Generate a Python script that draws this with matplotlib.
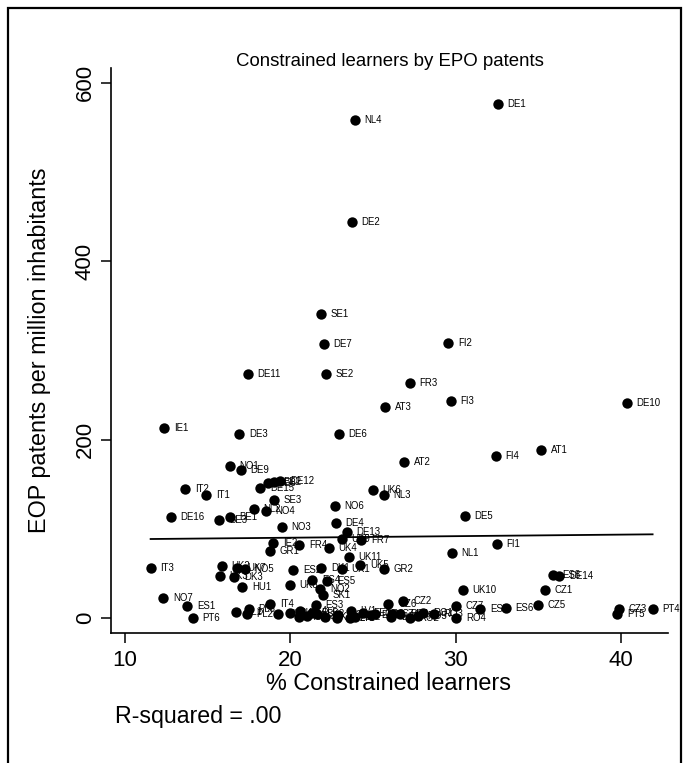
import numpy as np
import matplotlib
matplotlib.use('Agg')
import matplotlib.pyplot as plt
from matplotlib.patches import Rectangle

plt.rcParams['font.family'] = ['Liberation Sans', 'DejaVu Sans']

# regions, % constrained learners, EPO patents per million inhabitants
regions = ['DE1', 'NL4', 'DE2', 'SE1', 'DE7', 'FI2', 'DE11', 'SE2', 'FR3', 'AT3',
           'FI3', 'DE10', 'IE1', 'DE3', 'DE6', 'AT2', 'FI4', 'AT1', 'NO1', 'DE9',
           'IT2', 'IT1', 'DE15', 'DE8', 'BE2', 'DE12', 'SE3', 'NL2', 'NO4', 'BE1',
           'BE3', 'DE16', 'NO3', 'NO6', 'DE4', 'DE13', 'UK6', 'NL3', 'UK9', 'FR7',
           'DE5', 'FI1', 'NL1', 'IE2', 'GR1', 'FR4', 'UK4', 'UK11', 'IT3', 'UK2',
           'UK7', 'NO5', 'UK3', 'DK3', 'HU1', 'ES2', 'DK1', 'UK1', 'UK5', 'GR2',
           'UK8', 'ES4', 'ES5', 'NO2', 'SK1', 'NO7', 'ES1', 'PT6', 'UK10', 'CZ1',
           'ES8', 'DE14', 'CZ5', 'ES6', 'ES7', 'CZ7', 'RO4', 'CZ2', 'CZ3', 'PT5',
           'PT4', 'PL1', 'PL2', 'PL3', 'IT4', 'HU2', 'SI1', 'PL4', 'HU3', 'ES3',
           'SK2', 'BG2', 'LV1', 'LT1', 'EE1', 'GR3', 'CZ6', 'CZ4', 'BG1', 'RO2',
           'RO1', 'RO3', 'HU4', 'PL5', 'SK3', 'SI2', 'LV2', 'EE2', 'BG3', 'RO5']
constrained = [32.55, 23.91, 23.71, 21.84, 22.02, 29.56, 17.42, 22.16, 27.24, 25.73,
               29.72, 40.35, 12.36, 16.90, 22.93, 26.90, 32.43, 35.18, 16.35, 17.00,
               13.63, 14.90, 18.17, 18.65, 19.01, 19.38, 19.01, 17.80, 18.53, 16.35,
               15.69, 12.76, 19.50, 22.70, 22.76, 23.43, 25.00, 25.67, 23.13, 24.28,
               30.57, 32.49, 29.76, 18.95, 18.77, 20.53, 22.34, 23.55, 11.55, 15.85,
               16.78, 17.26, 15.73, 16.62, 17.10, 20.18, 21.88, 23.11, 24.23, 25.67,
               19.98, 21.34, 22.25, 21.80, 21.96, 12.32, 13.77, 14.10, 30.45, 35.39,
               35.87, 36.27, 34.98, 33.03, 31.48, 30.02, 30.04, 26.84, 39.90, 39.78,
               41.92, 16.70, 17.36, 17.50, 18.79, 19.24, 19.98, 20.59, 20.99, 21.55,
               21.60, 22.81, 23.65, 23.61, 24.42, 25.12, 25.93, 26.13, 26.64, 27.24,
               28.05, 28.69, 20.50, 21.30, 22.10, 22.90, 23.90, 24.90, 26.10, 27.70]
patents = [576.5, 558.5, 444.3, 340.5, 306.9, 308.7, 273.7, 273.7, 263.9, 237.0,
           243.8, 240.8, 213.2, 206.8, 206.1, 175.4, 182.1, 188.2, 171.1, 165.6,
           144.4, 137.8, 145.6, 151.1, 152.2, 153.3, 132.2, 122.2, 120.0, 113.3,
           110.0, 113.3, 102.2, 125.6, 106.7, 96.7, 143.3, 137.8, 88.9, 87.8,
           114.8, 83.3, 73.3, 84.4, 75.6, 82.2, 78.9, 69.2, 56.3, 58.3,
           56.7, 55.0, 47.4, 46.3, 35.2, 54.4, 56.1, 55.3, 60.0, 55.6,
           37.8, 42.8, 42.2, 33.3, 25.6, 22.2, 13.7, 0.8, 31.7, 31.4,
           48.1, 47.8, 15.2, 11.9, 10.0, 13.7, 0.8, 19.2, 10.8, 5.2,
           10.8, 7.4, 5.2, 10.8, 15.6, 4.4, 6.3, 8.1, 2.6, 14.4,
           4.4, 0.8, 8.1, 0.0, 6.3, 5.2, 16.3, 5.2, 5.2, 0.0,
           6.3, 4.4, 2.0, 5.5, 1.0, 3.5, 1.5, 4.0, 2.0, 3.0]

x = np.array(constrained)
y = np.array(patents)
slope, intercept = np.polyfit(x, y, 1)
r2 = np.corrcoef(x, y)[0, 1] ** 2

W, H = 689, 763
fig = plt.figure(figsize=(W / 100, H / 100), dpi=100)
fig.patch.set_facecolor('white')

# outer frame, open at the bottom
fig.patches.append(Rectangle((8 / W, -0.05), (681 - 8) / W, 1.05 - 8 / H,
                             transform=fig.transFigure, fill=False,
                             edgecolor='black', linewidth=1.6))

ax = fig.add_axes([111 / W, 1 - 633.3 / H, (668.3 - 111) / W, (633.3 - 68) / H])
ax.set_xlim(9.153, 42.87)
ax.set_ylim(-16.8, 616.4)

ax.scatter(x, y, s=56, color='black', zorder=3, linewidths=0)
for name, xi, yi in zip(regions, x, y):
    ax.annotate(name, (xi, yi), xytext=(7, 0), textcoords='offset points',
                fontsize=6.9, va='center', ha='left', zorder=2)

# least-squares line over the observed range
xs = np.array([x.min(), x.max()])
ax.plot(xs, intercept + slope * xs, color='black', linewidth=1.3, zorder=2)

for side in ['top', 'right']:
    ax.spines[side].set_visible(False)
ax.spines['left'].set_linewidth(1.2)
ax.spines['bottom'].set_linewidth(1.2)
ax.set_xticks([10, 20, 30, 40])
ax.set_yticks([0, 200, 400, 600])
ax.tick_params(axis='both', direction='out', length=7, width=1.1, labelsize=16)
ax.tick_params(axis='x', pad=5)
ax.tick_params(axis='y', pad=4)
for lab in ax.get_yticklabels():
    lab.set_rotation(90)
    lab.set_va('center')

fig.text(390 / W, 1 - 62 / H, 'Constrained learners by EPO patents',
         ha='center', va='center', fontsize=13.4)
fig.text(389 / W, 1 - 683 / H, '% Constrained learners',
         ha='center', va='center', fontsize=16.8)
fig.text(40 / W, 1 - 350 / H, 'EOP patents per million inhabitants',
         ha='center', va='center', rotation=90, fontsize=16.8)
fig.text(115 / W, 1 - 717 / H, 'R-squared = ' + ('%.2f' % r2).lstrip('0'),
         ha='left', va='center', fontsize=16.7)

fig.savefig('out.png', dpi=100)
